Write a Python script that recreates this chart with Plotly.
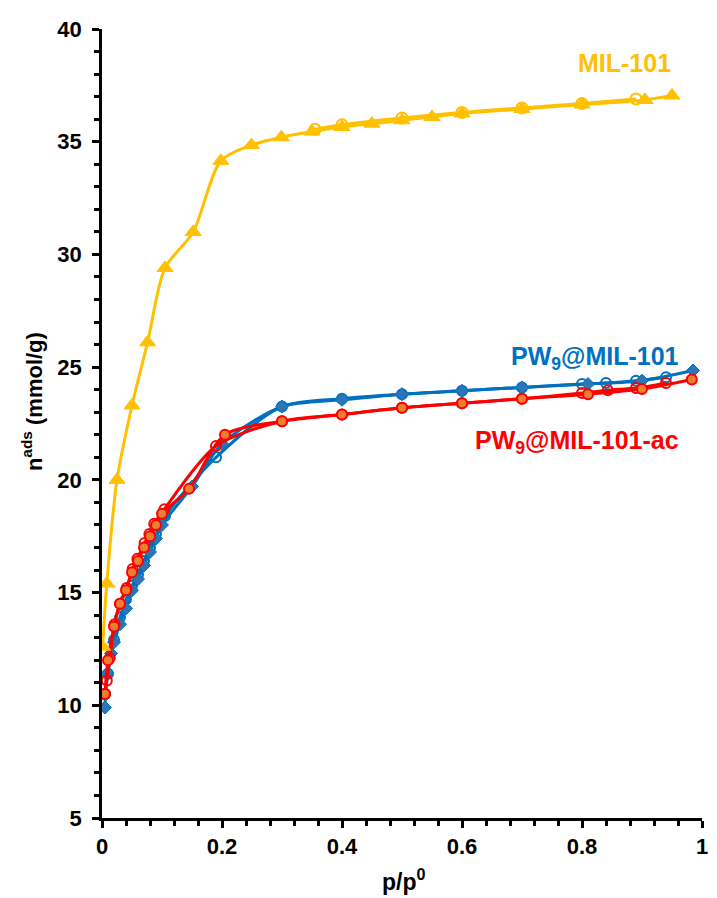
import plotly.graph_objects as go

# MIL-101
mil_ads_p = [0.001, 0.008, 0.025, 0.05, 0.076, 0.105, 0.152, 0.198, 0.249, 0.299, 0.35, 0.40, 0.45, 0.50, 0.55, 0.60, 0.70, 0.80, 0.905, 0.95]
mil_ads_n = [12.6, 15.4, 20.0, 23.3, 26.1, 29.4, 31.0, 34.15, 34.85, 35.2, 35.45, 35.65, 35.8, 35.95, 36.1, 36.25, 36.45, 36.65, 36.85, 37.05]
mil_des_p = [0.355, 0.40, 0.50, 0.60, 0.70, 0.80, 0.89]
mil_des_n = [35.55, 35.75, 36.05, 36.3, 36.5, 36.7, 36.9]

# PW9@MIL-101
pw_ads_p = [0.005, 0.008, 0.015, 0.02, 0.03, 0.04, 0.05, 0.06, 0.07, 0.08, 0.09, 0.10, 0.15, 0.20, 0.30, 0.40, 0.50, 0.60, 0.70, 0.81, 0.90, 0.985]
pw_ads_n = [9.9, 11.4, 12.3, 12.8, 13.6, 14.3, 15.1, 15.6, 16.2, 16.8, 17.4, 18.0, 19.7, 21.6, 23.25, 23.55, 23.8, 23.95, 24.1, 24.25, 24.4, 24.85]
pw_des_p = [0.005, 0.01, 0.02, 0.03, 0.04, 0.05, 0.06, 0.07, 0.08, 0.09, 0.105, 0.19, 0.30, 0.40, 0.50, 0.60, 0.70, 0.80, 0.84, 0.89, 0.94]
pw_des_n = [10.5, 11.4, 12.9, 13.9, 14.7, 15.3, 15.8, 16.4, 17.0, 17.6, 18.4, 21.0, 23.25, 23.6, 23.8, 23.95, 24.1, 24.25, 24.3, 24.4, 24.55]

# PW9@MIL-101-ac
ac_ads_p = [0.005, 0.01, 0.02, 0.03, 0.04, 0.05, 0.06, 0.07, 0.08, 0.09, 0.10, 0.145, 0.205, 0.30, 0.40, 0.50, 0.60, 0.70, 0.81, 0.90, 0.983]
ac_ads_n = [10.5, 12.0, 13.5, 14.5, 15.1, 15.9, 16.4, 17.0, 17.5, 18.0, 18.5, 19.6, 22.0, 22.6, 22.9, 23.2, 23.4, 23.6, 23.8, 24.03, 24.45]
ac_des_p = [0.005, 0.008, 0.013, 0.021, 0.03, 0.041, 0.051, 0.059, 0.071, 0.079, 0.087, 0.104, 0.19, 0.30, 0.40, 0.50, 0.60, 0.70, 0.80, 0.843, 0.89, 0.94]
ac_des_n = [10.5, 11.1, 12.1, 13.6, 14.5, 15.2, 16.05, 16.5, 17.2, 17.6, 18.05, 18.7, 21.5, 22.6, 22.9, 23.2, 23.4, 23.6, 23.85, 23.98, 24.07, 24.3]

x_ticks = [0, 0.2, 0.4, 0.6, 0.8, 1]
y_ticks = [5, 10, 15, 20, 25, 30, 35, 40]

YELLOW = "#FFC000"
BLUE = "#0070C0"
BLUE_M = "#2E75B6"
RED = "#FF0000"
ORANGE = "#ED7D31"
FONT = "Arial, Liberation Sans, sans-serif"

fig = go.Figure()

def add(px, py, color, symbol, size, fill=None, mlw=2):
    marker = dict(symbol=symbol, size=size, color=fill if fill else color,
                  line=dict(color=color, width=mlw))
    fig.add_trace(go.Scatter(x=px, y=py, mode="lines+markers",
                             line=dict(color=color, width=3, shape="spline", smoothing=0.8),
                             marker=marker, showlegend=False))

# PW9@MIL-101
add(pw_des_p, pw_des_n, BLUE, "circle-open", 10)
add(pw_ads_p, pw_ads_n, BLUE, "diamond", 10, fill=BLUE_M, mlw=1)
# PW9@MIL-101-ac
add(ac_des_p, ac_des_n, RED, "circle-open", 10)
add(ac_ads_p, ac_ads_n, RED, "circle", 10, fill=ORANGE, mlw=2)
# MIL-101
add(mil_des_p, mil_des_n, YELLOW, "circle-open", 11)
add(mil_ads_p, mil_ads_n, YELLOW, "triangle-up", 14, fill=YELLOW, mlw=1)

axis_common = dict(showgrid=False, zeroline=False, showline=True, linecolor="black",
                   linewidth=2.5, ticks="outside", ticklen=7, tickwidth=2.5, tickcolor="black",
                   tickfont=dict(family=FONT, size=22, color="black", weight="bold"),
                   mirror=False)

fig.update_xaxes(range=[0, 1], tickmode="array", tickvals=x_ticks, ticktext=[str(v) for v in x_ticks],
                 minor=dict(dtick=0.04, ticks="outside", ticklen=5, tickwidth=2.5, tickcolor="black"),
                 **axis_common)
fig.update_yaxes(range=[5, 40], tickmode="array", tickvals=y_ticks, ticktext=[str(v) for v in y_ticks],
                 ticklabelstandoff=6,
                 minor=dict(dtick=1, ticks="outside", ticklen=5, tickwidth=2.5, tickcolor="black"),
                 **axis_common)

fig.add_annotation(xref="paper", yref="paper", x=-0.1155, y=0.528, text="n<sup>ads</sup> (mmol/g)",
                   textangle=-90, showarrow=False, xanchor="center", yanchor="middle",
                   font=dict(family=FONT, size=22, color="black", weight="bold"))
fig.add_annotation(xref="paper", yref="paper", x=0.503, y=-0.078, text="p/p<sup>0</sup>",
                   showarrow=False, xanchor="center", yanchor="middle",
                   font=dict(family=FONT, size=23, color="black", weight="bold"))

fig.add_annotation(x=0.871, y=38.5, text="MIL-101", showarrow=False,
                   font=dict(family=FONT, size=25, color=YELLOW, weight="bold"))
fig.add_annotation(x=0.822, y=25.4, text="PW<sub>9</sub>@MIL-101", showarrow=False,
                   font=dict(family=FONT, size=25, color=BLUE, weight="bold"))
fig.add_annotation(x=0.792, y=21.7, text="PW<sub>9</sub>@MIL-101-ac", showarrow=False,
                   font=dict(family=FONT, size=25, color=RED, weight="bold"))

fig.update_layout(width=709, height=890, margin=dict(l=94, r=9, t=19, b=80),
                  plot_bgcolor="white", paper_bgcolor="white", showlegend=False)

fig.write_html("out.html")
